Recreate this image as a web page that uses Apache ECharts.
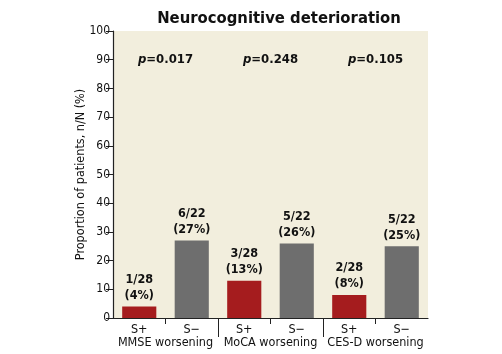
<!DOCTYPE html>
<html><head><meta charset="utf-8">
<script src="https://cdn.jsdelivr.net/npm/echarts@6/dist/echarts.min.js"></script>
<style>html,body{margin:0;padding:0;background:#fff}#c{width:502px;height:354px}</style>
</head><body><div id="c"></div>
<script>
var categories = ["S+", "S\u2212", "S+", "S\u2212", "S+", "S\u2212"];
var groups = ["MMSE worsening", "MoCA worsening", "CES-D worsening"];
var counts = [1, 6, 3, 5, 2, 5];
var totals = [28, 22, 28, 22, 28, 22];
var percents = [4, 27, 13, 26, 8, 25];
var pValues = ["0.017", "0.248", "0.105"];
var pLevel = [90, 90, 90];
var yTicks = [0, 10, 20, 30, 40, 50, 60, 70, 80, 90, 100];

var FONT = "'DejaVu Sans Condensed', 'Liberation Sans Narrow', 'Noto Sans', sans-serif";
var RED = "#a51c1e", GRAY = "#6e6e6e";
var nCat = categories.length;

var chart = echarts.init(document.getElementById('c'), null, {renderer: 'canvas'});
chart.setOption({
  animation: false,
  textStyle: {fontFamily: FONT},
  title: {
    text: "Neurocognitive deterioration", left: 274, top: 5, textAlign: 'center',
    textStyle: {fontFamily: FONT, fontSize: 16.5, fontWeight: 'bold', color: '#111'}
  },
  grid: {left: 113, right: 74, top: 31, bottom: 36, show: true, backgroundColor: '#f2eedd', borderWidth: 0},
  xAxis: [{
    type: 'category', data: categories, position: 'bottom',
    axisLine: {lineStyle: {color: '#222', width: 1.2}},
    axisTick: {show: false},
    axisLabel: {color: '#111', fontFamily: FONT, fontSize: 12.5, margin: 5, interval: 0}
  }, {
    type: 'value', min: 0, max: nCat, position: 'bottom',
    axisLine: {show: false},
    splitLine: {show: false},
    axisTick: {show: true, length: 19, lineStyle: {color: '#222'},
      customValues: groups.slice(1).map(function(g, i){ return (i + 1) * 2; })},
    axisLabel: {color: '#111', fontFamily: FONT, fontSize: 12.5, margin: 18,
      customValues: groups.map(function(g, i){ return i * 2 + 1; }),
      formatter: function(v){ return groups[(v - 1) / 2]; }}
  }, {
    type: 'value', min: 0, max: nCat, position: 'bottom',
    axisLine: {show: false},
    splitLine: {show: false},
    axisTick: {show: true, length: 6, lineStyle: {color: '#222'},
      customValues: groups.map(function(g, i){ return i * 2 + 1; })},
    axisLabel: {show: false}
  }],
  yAxis: {
    type: 'value', min: yTicks[0], max: yTicks[yTicks.length - 1], interval: 10,
    name: "Proportion of patients, n/N (%)", nameLocation: 'middle', nameGap: 26,
    nameMoveOverlap: false,
    nameTextStyle: {fontFamily: FONT, fontSize: 12.5, color: '#111'},
    axisLine: {show: true, lineStyle: {color: '#222', width: 1.2}},
    axisTick: {show: true, length: 7, lineStyle: {color: '#222'}},
    axisLabel: {color: '#111', fontFamily: FONT, fontSize: 12, margin: 3},
    splitLine: {show: false}
  },
  series: [{
    type: 'bar', xAxisIndex: 0, barWidth: '65%',
    data: percents.map(function(v, i){
      return {value: v, itemStyle: {color: i % 2 === 0 ? RED : GRAY}};
    }),
    label: {
      show: true, position: 'top', distance: 3, color: '#111',
      fontFamily: FONT, fontSize: 12.5, fontWeight: 'bold', lineHeight: 16,
      formatter: function(p){
        return counts[p.dataIndex] + "/" + totals[p.dataIndex] + "\n(" + percents[p.dataIndex] + "%)";
      }
    }
  }, {
    type: 'scatter', xAxisIndex: 1, symbolSize: 0, silent: true,
    itemStyle: {opacity: 1},
    data: pLevel.map(function(v, i){ return [i * 2 + 1, v]; }),
    label: {
      show: true, position: 'inside', color: '#111', textBorderWidth: 0,
      formatter: function(p){ return "{i|p}{b|=" + pValues[p.dataIndex] + "}"; },
      rich: {
        i: {fontFamily: FONT, fontSize: 13, fontStyle: 'italic', fontWeight: 'bold', color: '#111', textBorderWidth: 0},
        b: {fontFamily: FONT, fontSize: 13, fontWeight: 'bold', color: '#111', textBorderWidth: 0}
      }
    }
  }]
});
</script></body></html>
